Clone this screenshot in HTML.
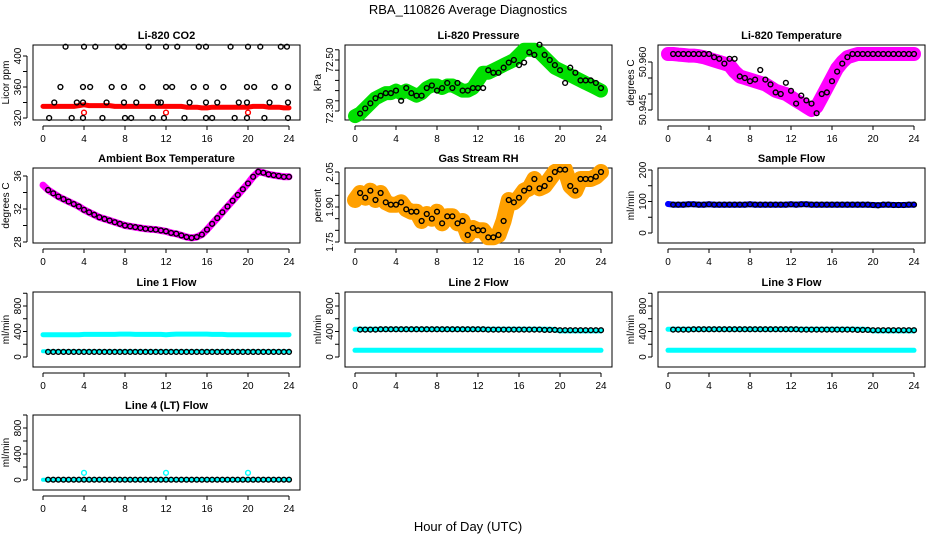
<!DOCTYPE html>
<html><head><meta charset="utf-8">
<style>
body{margin:0;background:#fff;}
svg{display:block;font-family:"Liberation Sans",sans-serif;}
</style></head>
<body>
<svg id="chart" width="936" height="540" viewBox="0 0 936 540" xmlns="http://www.w3.org/2000/svg">
<text x="468" y="14" font-size="13" text-anchor="middle">RBA_110826  Average Diagnostics</text>
<text x="468" y="531" font-size="13" text-anchor="middle">Hour of Day (UTC)</text>
</svg>
<script>
// ---- data (hours 0.5..24 step 0.5 for black points; band uses hour 0 + same) ----
const hours = [0.5,1,1.5,2,2.5,3,3.5,4,4.5,5,5.5,6,6.5,7,7.5,8,8.5,9,9.5,10,10.5,11,11.5,12,12.5,13,13.5,14,14.5,15,15.5,16,16.5,17,17.5,18,18.5,19,19.5,20,20.5,21,21.5,22,22.5,23,23.5,24];
const bandHours = [0].concat(hours);

const co2TopHours = [2.2,4,5.1,7.3,7.9,10.3,12,13.1,15.2,15.9,18.3,20,21.2,23.2,23.8];
const co2HighHours = [1.7,3.9,4.6,6.7,7.9,9.7,12,12.6,14.7,15.9,17.6,19.9,20.6,22.6,23.9];
const co2MidHours = [1.1,3.3,3.9,6.2,7.9,9.1,11.2,11.5,14.3,15.9,17,19.1,19.9,22.1,23.9];
const co2LowHours = [0.6,2.8,3.9,5.8,8,8.6,10.7,11.8,13.8,15.9,16.5,18.7,19.9,21.6,23.9];
const co2Levels = [412,360,340,320];
const co2Band = [335,335,335,335,335,335,335,336,337,336,336,336,336,336,335,335,335,335,335,335,335,335,335,335,335,335,335,335,334,334,334,333,333,334,334,334,334,334,334,334,334,335,335,335,334,334,334,333,333];
const co2OutlierHours = [4,12,20];
const co2OutlierVals = [327,327,327];

const pressure = [72.29,72.31,72.33,72.35,72.36,72.37,72.37,72.38,72.34,72.39,72.37,72.36,72.36,72.39,72.40,72.38,72.39,72.41,72.39,72.41,72.38,72.38,72.39,72.39,72.39,72.46,72.45,72.45,72.47,72.49,72.50,72.48,72.49,72.53,72.52,72.56,72.52,72.50,72.48,72.46,72.41,72.47,72.45,72.42,72.42,72.42,72.41,72.39];
const pressureBand = [72.28,72.29,72.31,72.33,72.35,72.36,72.37,72.37,72.38,72.37,72.38,72.37,72.36,72.37,72.39,72.40,72.40,72.39,72.40,72.40,72.39,72.38,72.38,72.39,72.42,72.45,72.45,72.46,72.47,72.48,72.49,72.50,72.52,72.54,72.54,72.54,72.53,72.51,72.49,72.47,72.46,72.45,72.44,72.43,72.42,72.41,72.40,72.39,72.38];

const temperature = [50.9625,50.9625,50.9625,50.9625,50.9625,50.9625,50.9625,50.9625,50.9615,50.961,50.9595,50.961,50.961,50.9555,50.955,50.954,50.9545,50.9575,50.9545,50.953,50.9505,50.950,50.9535,50.951,50.947,50.9495,50.948,50.947,50.944,50.950,50.9505,50.954,50.957,50.9595,50.9615,50.9625,50.9625,50.9625,50.9625,50.9625,50.9625,50.9625,50.9625,50.9625,50.9625,50.9625,50.9625,50.9625];
const temperatureBand = [50.9625,50.9625,50.9623,50.9622,50.962,50.962,50.9618,50.9615,50.961,50.9605,50.960,50.9595,50.959,50.957,50.9555,50.955,50.9545,50.954,50.9535,50.953,50.952,50.951,50.9505,50.950,50.949,50.948,50.947,50.946,50.945,50.946,50.949,50.952,50.955,50.958,50.960,50.9615,50.962,50.9625,50.9625,50.9625,50.9625,50.9625,50.9625,50.9625,50.9625,50.9625,50.9625,50.9625,50.9625];

const ambient = [34.3,33.9,33.5,33.2,32.9,32.6,32.3,31.9,31.6,31.3,31.0,30.8,30.6,30.4,30.2,30.0,29.9,29.8,29.7,29.6,29.55,29.5,29.4,29.3,29.1,29.0,28.8,28.6,28.5,28.6,28.9,29.5,30.2,30.9,31.6,32.3,33.0,33.7,34.4,35.1,35.9,36.5,36.4,36.2,36.1,36.0,35.9,35.9];
const ambientBand = [34.9].concat(ambient);

const rh = [1.96,1.94,1.97,1.93,1.96,1.92,1.91,1.91,1.92,1.89,1.88,1.88,1.84,1.87,1.85,1.88,1.83,1.86,1.86,1.83,1.84,1.78,1.81,1.80,1.80,1.77,1.77,1.78,1.84,1.93,1.92,1.94,1.97,1.98,2.02,1.98,1.99,2.02,2.05,2.06,2.06,1.99,1.97,2.02,2.02,2.02,2.03,2.05];
const rhBand = [1.93].concat(rh);

const sampleFlow = [90,90,90,91,91,90,90,91,90,90,90,90,90,90,90,91,90,90,90,90,90,90,90,91,90,91,91,90,90,90,90,90,90,90,90,90,90,90,90,89,88,90,90,89,89,89,90,90];
const sampleBand = [92].concat(sampleFlow);

const line1Black = hours.map(()=>80);
const line1High = [350,350,350,350,350,350,350,350,355,355,355,355,355,355,355,360,360,360,355,355,355,355,355,355,350,355,360,360,360,360,360,360,360,355,355,355,350,350,350,350,350,350,350,350,350,350,350,350,350];
const line1Low = bandHours.map(()=>90);

const line2Black = [430,430,430,430,435,435,435,435,435,435,435,435,435,435,435,435,435,435,435,435,435,435,435,435,435,430,430,430,430,430,430,430,430,430,430,430,425,425,425,420,420,420,420,420,420,420,420,420];
const line2High = [435,435,435,435,435,435,435,435,435,435,435,435,435,435,435,435,435,435,435,435,435,435,435,435,435,435,435,435,435,435,435,435,435,435,435,435,435,435,435,430,410,410,410,410,410,410,410,410,410];
const line2Low = bandHours.map(()=>105);

const line3Black = line2Black.slice();
const line3High = line2High.slice();
const line3Low = bandHours.map(()=>105);

const line4Black = hours.map(()=>5);
const line4Band = bandHours.map(()=>5);
const line4OutlierHours = [4,12,20];
const line4OutlierVals = [110,110,110];

const xTicks = [0,4,8,12,16,20,24];

// ---- layout ----
const NS = "http://www.w3.org/2000/svg";
const svg = document.getElementById('chart');
const colLeft = [33,345,658];
const rowTop = [45,168,292,415];
const boxW = 267, boxH = 75;
function el(tag, attrs, parent){
  const e = document.createElementNS(NS, tag);
  for (const k in attrs) e.setAttribute(k, attrs[k]);
  (parent||svg).appendChild(e);
  return e;
}
function makePanel(col,row,title,ylab,v1,p1,v2,p2,ticks,labels){
  const g = el('g',{});
  const L = colLeft[col], T = rowTop[row];
  const xs = h => L + 10 + h*10.25;
  const ys = v => (T + p1) + (v - v1)*(p2 - p1)/(v2 - v1);
  const box = el('rect',{x:L,y:T,width:boxW,height:boxH,fill:'none',stroke:'#000','stroke-width':1},g);
  
  
  const t = el('text',{x:L+boxW/2,y:T-6,'font-size':11,'font-weight':'bold','text-anchor':'middle'},g);
  t.textContent = title;
  
  
  const yl = el('text',{x:0,y:0,'font-size':10,'text-anchor':'middle',transform:`translate(${L-24},${T+boxH/2}) rotate(-90)`},g);
  yl.textContent = ylab;
  
  
  const xa = el('g',{},g);
  
  
  el('line',{x1:xs(0),x2:xs(24),y1:T+boxH+6,y2:T+boxH+6,stroke:'#000'},xa);
  xTicks.forEach(h=>{
    el('line',{x1:xs(h),x2:xs(h),y1:T+boxH+6,y2:T+boxH+10,stroke:'#000'},xa);
    const tl = el('text',{x:xs(h),y:T+boxH+22,'font-size':10,'text-anchor':'middle'},xa);
    tl.textContent = h;
    
    
  });
  const ya = el('g',{},g);
  
  
  const yTop = Math.min(ys(ticks[0]),ys(ticks[ticks.length-1])), yBot = Math.max(ys(ticks[0]),ys(ticks[ticks.length-1]));
  el('line',{x1:L-6,x2:L-6,y1:yTop,y2:yBot,stroke:'#000'},ya);
  ticks.forEach(v=>{
    el('line',{x1:L-10,x2:L-6,y1:ys(v),y2:ys(v),stroke:'#000'},ya);
  });
  labels.forEach(lb=>{
    const tl = el('text',{x:0,y:0,'font-size':10,'text-anchor':'middle',transform:`translate(${L-12},${ys(lb[0])}) rotate(-90)`},ya);
    tl.textContent = lb[1];
    
    
  });
  const clip = 'clip'+col+row;
  const cp = el('clipPath',{id:clip},g);
  el('rect',{x:L,y:T-4,width:boxW,height:boxH+8},cp);
  const data = el('g',{'clip-path':`url(#${clip})`},g);
  
  
  return {xs,ys,data};
}
function band(p,hs,vals,color,w){
  const pts = hs.map((h,i)=>p.xs(h).toFixed(1)+','+p.ys(vals[i]).toFixed(1)).join(' ');
  const b = el('polyline',{points:pts,fill:'none',stroke:color,'stroke-width':w,'stroke-linejoin':'round','stroke-linecap':'round'},p.data);
  
  
}
function circles(p,hs,vals,color,r){
  hs.forEach((h,i)=>{
    const c = el('circle',{cx:p.xs(h),cy:p.ys(vals[i]),r:r||2.4,fill:'none',stroke:color||'#000','stroke-width':1.4},p.data);
    
    
  });
}

// CO2
let p = makePanel(0,0,'Li-820 CO2','Licor ppm',320,118-45,400,56-45,[320,340,360,380,400],[[320,'320'],[360,'360'],[400,'400']]);
band(p,bandHours,co2Band,'#ff0000',5);
circles(p,co2OutlierHours,co2OutlierVals,'#ff0000');
circles(p,co2TopHours,co2TopHours.map(()=>co2Levels[0]));
circles(p,co2HighHours,co2HighHours.map(()=>co2Levels[1]));
circles(p,co2MidHours,co2MidHours.map(()=>co2Levels[2]));
circles(p,co2LowHours,co2LowHours.map(()=>co2Levels[3]));

// Pressure
p = makePanel(1,0,'Li-820 Pressure','kPa',72.30,111-45,72.50,60-45,[72.30,72.34,72.38,72.42,72.46,72.50,72.54],[[72.30,'72.30'],[72.50,'72.50']]);
band(p,bandHours,pressureBand,'#00e000',14);
circles(p,hours,pressure);

// Temperature
p = makePanel(2,0,'Li-820 Temperature','degrees C',50.945,110-45,50.960,62-45,[50.945,50.950,50.955,50.960],[[50.945,'50.945'],[50.960,'50.960']]);
band(p,bandHours,temperatureBand,'#ff00ff',14);
circles(p,hours,temperature);

// Ambient
p = makePanel(0,1,'Ambient Box Temperature','degrees C',28,242-168,36,176-168,[28,30,32,34,36],[[28,'28'],[32,'32'],[36,'36']]);
band(p,bandHours,ambientBand,'#ff00ff',7);
circles(p,hours,ambient);

// RH
p = makePanel(1,1,'Gas Stream RH','percent',1.75,242-168,2.05,172-168,[1.75,1.80,1.85,1.90,1.95,2.00,2.05],[[1.75,'1.75'],[1.90,'1.90'],[2.05,'2.05']]);
band(p,bandHours,rhBand,'#ffa000',16);
circles(p,hours,rh);

// Sample flow
p = makePanel(2,1,'Sample Flow','ml/min',0,233-168,200,170-168,[0,50,100,150,200],[[0,'0'],[100,'100'],[200,'200']]);
band(p,bandHours,sampleBand,'#0000ff',6);
circles(p,hours,sampleFlow);

// Line flows
const lfTicks = [0,200,400,600,800,1000];
const lfLabels = [[0,'0'],[400,'400'],[800,'800']];
p = makePanel(0,2,'Line 1 Flow','ml/min',0,357-292,800,306-292,lfTicks,lfLabels);
band(p,bandHours,line1High,'#00ffff',5);
band(p,bandHours,line1Low,'#00ffff',4);
circles(p,hours,line1Black);

p = makePanel(1,2,'Line 2 Flow','ml/min',0,357-292,800,306-292,lfTicks,lfLabels);
band(p,bandHours,line2High,'#00ffff',5);
band(p,bandHours,line2Low,'#00ffff',5);
circles(p,hours,line2Black);

p = makePanel(2,2,'Line 3 Flow','ml/min',0,357-292,800,306-292,lfTicks,lfLabels);
band(p,bandHours,line3High,'#00ffff',5);
band(p,bandHours,line3Low,'#00ffff',5);
circles(p,hours,line3Black);

p = makePanel(0,3,'Line 4 (LT) Flow','ml/min',0,480-415,800,428-415,lfTicks,lfLabels);
band(p,bandHours,line4Band,'#00ffff',4);
circles(p,line4OutlierHours,line4OutlierVals,'#00ffff');
circles(p,hours,line4Black);
</script>
</body></html>
